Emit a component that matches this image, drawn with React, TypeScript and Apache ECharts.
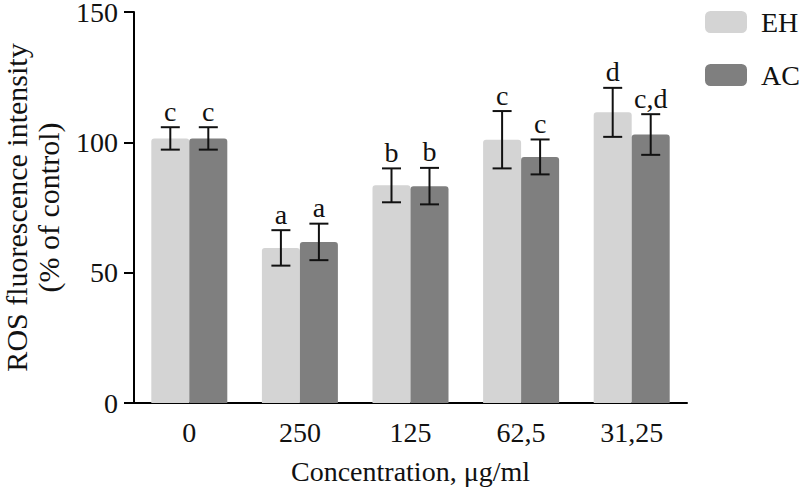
import React, { useEffect, useRef } from "react";
import * as echarts from "echarts";

const categories = ["0", "250", "125", "62,5", "31,25"];
const seriesNames = ["EH", "AC"];
const ehValues = [101.5, 59.5, 83.5, 101, 111.5];
const acValues = [101.5, 61.8, 83.2, 94.4, 103];
const ehErrors = [4.3, 6.8, 6.5, 11, 9.4];
const acErrors = [4.3, 7, 7, 6.7, 7.8];
const ehLetters = ["c", "a", "b", "c", "d"];
const acLetters = ["c", "a", "b", "c", "c,d"];
const yTicks = { min: 0, max: 150, interval: 50 };

const FONT = "'Liberation Serif', 'Times New Roman', serif";
const FS = 28;
const BAR_W = 38;
const colors = ["#d4d4d4", "#7f7f7f"];

export default function App() {
  const ref = useRef<HTMLDivElement>(null);
  useEffect(() => {
    if (!ref.current) return;
    const chart = echarts.init(ref.current, undefined, { renderer: "svg" });

    const errData: any[] = [];
    categories.forEach((_, i) => {
      errData.push([i, ehValues[i] - ehErrors[i], ehValues[i] + ehErrors[i], 0, ehLetters[i]]);
      errData.push([i, acValues[i] - acErrors[i], acValues[i] + acErrors[i], 1, acLetters[i]]);
    });

    const option: any = {
      animation: false,
      backgroundColor: "#ffffff",
      textStyle: { fontFamily: FONT },
      grid: { left: 134, right: 113, top: 12, bottom: 84, outerBoundsMode: "none", containLabel: false },
      legend: {
        orient: "vertical",
        left: 700,
        top: 3,
        itemWidth: 42,
        itemHeight: 22,
        itemGap: 25,
        icon: "roundRect",
        data: seriesNames,
        textStyle: { fontFamily: FONT, fontSize: FS, color: "#111", lineHeight: 22, padding: [0, 0, 0, 9] },
      },
      xAxis: {
        type: "category",
        data: categories,
        name: "Concentration, μg/ml",
        nameLocation: "middle",
        nameGap: 54,
        nameTextStyle: { fontFamily: FONT, fontSize: FS, color: "#111" },
        axisLine: { lineStyle: { color: "#000", width: 2 } },
        axisTick: { alignWithLabel: true, length: 10, lineStyle: { color: "#000", width: 2 } },
        axisLabel: { fontFamily: FONT, fontSize: FS, color: "#111", margin: 15 },
      },
      yAxis: {
        type: "value",
        min: yTicks.min,
        max: yTicks.max,
        interval: yTicks.interval,
        name: "ROS fluorescence intensity\n(% of control)",
        nameLocation: "middle",
        nameRotate: 90,
        nameGap: 70,
        nameTextStyle: { fontFamily: FONT, fontSize: 30, color: "#111", lineHeight: 32 },
        axisLine: { show: true, lineStyle: { color: "#000", width: 2 } },
        axisTick: { show: true, length: 10, lineStyle: { color: "#000", width: 2 } },
        axisLabel: { fontFamily: FONT, fontSize: FS, lineHeight: 22, color: "#111", margin: 16 },
        splitLine: { show: false },
      },
      series: [
        {
          name: seriesNames[0],
          type: "bar",
          data: ehValues,
          barWidth: BAR_W,
          barGap: "0%",
          itemStyle: { color: colors[0], borderRadius: [3, 3, 0, 0] },
        },
        {
          name: seriesNames[1],
          type: "bar",
          data: acValues,
          barWidth: BAR_W,
          barGap: "0%",
          itemStyle: { color: colors[1], borderRadius: [3, 3, 0, 0] },
        },
        {
          type: "custom",
          data: errData,
          z: 10,
          encode: { x: 0, y: [1, 2] },
          renderItem: (params: any, api: any) => {
            const idx = api.value(0);
            const lo = api.coord([idx, api.value(1)]);
            const hi = api.coord([idx, api.value(2)]);
            const s = api.value(3);
            const letter = errData[params.dataIndex][4];
            const x = lo[0] + (s === 0 ? -BAR_W / 2 : BAR_W / 2);
            const cap = 9.5;
            const ls = { stroke: "#111", lineWidth: 2 };
            return {
              type: "group",
              children: [
                { type: "line", shape: { x1: x, y1: lo[1], x2: x, y2: hi[1] }, style: ls },
                { type: "line", shape: { x1: x - cap, y1: lo[1], x2: x + cap, y2: lo[1] }, style: ls },
                { type: "line", shape: { x1: x - cap, y1: hi[1], x2: x + cap, y2: hi[1] }, style: ls },
                {
                  type: "text",
                  style: {
                    text: letter,
                    x: x,
                    y: hi[1] - 2,
                    textAlign: "center",
                    textVerticalAlign: "bottom",
                    fontFamily: FONT,
                    fontSize: FS,
                    fill: "#111",
                  },
                },
              ],
            };
          },
        },
      ],
    };
    chart.setOption(option);
    return () => chart.dispose();
  }, []);
  return (
    <div style={{ position: "fixed", left: 0, top: 0, width: 800, height: 487, background: "#fff" }}>
      <div ref={ref} style={{ width: 800, height: 487 }} />
    </div>
  );
}
